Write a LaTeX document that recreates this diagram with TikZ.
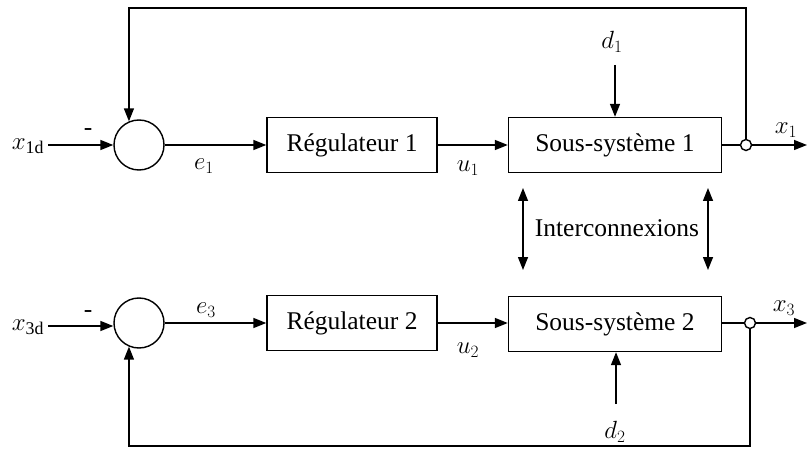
\documentclass[tikz,border=0pt]{standalone}
\usepackage{fontspec}
\setmainfont{Liberation Serif}
\usetikzlibrary{arrows.meta}
\begin{document}
\begin{tikzpicture}[x=1pt,y=-1pt,
  line width=1.4pt,
  font=\fontsize{25.5}{30}\selectfont,
  arr/.style={-{Triangle[length=13pt,width=10pt]}},
  darr/.style={{Triangle[length=13pt,width=10pt]}-{Triangle[length=13pt,width=10pt]}},
  sumnode/.style={circle,draw,minimum size=50pt,inner sep=0pt},
  block/.style={rectangle,draw,minimum height=55pt,inner sep=0pt},
  tap/.style={circle,draw,fill=white,minimum size=11pt,inner sep=0pt},
  lbl/.style={inner sep=1pt}]
\useasboundingbox (0,0) rectangle (808,457);

% upper loop
\node[sumnode] (s1) at (139,145) {};
\node[block,minimum width=170pt] (r1) at (352,145) {Régulateur 1};
\node[block,minimum width=213pt] (p1) at (615,145) {Sous-système 1};
\node[tap] (o1) at (746,145) {};
\coordinate (in1) at (48,145);
\coordinate (out1) at (807,145);
\coordinate (top) at (0,8);
\coordinate (dd1) at (615,65);

\node[lbl] (lx1d) at (28,146) {$x_{\mathrm{1d}}$};
\node[lbl] (m1) at (88,132) {-};
\node[lbl] (le1) at (204,166) {$e_1$};
\node[lbl] (lu1) at (468,168) {$u_1$};
\node[lbl] (ld1) at (612,42) {$d_1$};
\node[lbl] (lx1) at (786,130) {$x_1$};

\draw[arr] (in1) -- (s1);
\draw[arr] (s1) -- (r1);
\draw[arr] (r1) -- (p1);
\draw[arr] (dd1) -- (p1.north);
\draw (p1) -- (o1);
\draw[arr] (o1) -- (out1);
\draw[arr] (o1) -- (o1 |- top) -| (s1.113);

% lower loop
\node[sumnode] (s2) at (139,323) {};
\node[block,minimum width=170pt] (r2) at (352,323) {Régulateur 2};
\node[block,minimum width=213pt] (p2) at (615,324) {Sous-système 2};
\node[tap] (o2) at (750,323) {};
\coordinate (in2) at (48,326);
\coordinate (out2) at (807,323);
\coordinate (bot) at (0,446);
\coordinate (dd2) at (616,404);

\node[lbl] (lx3d) at (28,327) {$x_{\mathrm{3d}}$};
\node[lbl] (m2) at (88,314) {-};
\node[lbl] (le3) at (206,310) {$e_3$};
\node[lbl] (lu2) at (468,350) {$u_2$};
\node[lbl] (ld2) at (615,432) {$d_2$};
\node[lbl] (lx3) at (784,308) {$x_3$};

\draw[arr] (in2) -- (s2.west |- in2);
\draw[arr] (s2) -- (r2);
\draw[arr] (r2) -- (p2.west |- r2);
\draw[arr] (dd2) -- (p2.south -| dd2);
\draw (p2.east |- o2) -- (o2);
\draw[arr] (o2) -- (out2);
\draw[arr] (o2) -- (o2 |- bot) -| (s2.247);

% interconnections between the subsystems
\coordinate (ia1) at (523,188);
\coordinate (ib1) at (523,270);
\coordinate (ia2) at (708,188);
\coordinate (ib2) at (708,270);
\draw[darr] (ia1) -- (ib1);
\draw[darr] (ia2) -- (ib2);
\node[lbl] (inter) at (617,228) {Interconnexions};
\end{tikzpicture}
\end{document}
